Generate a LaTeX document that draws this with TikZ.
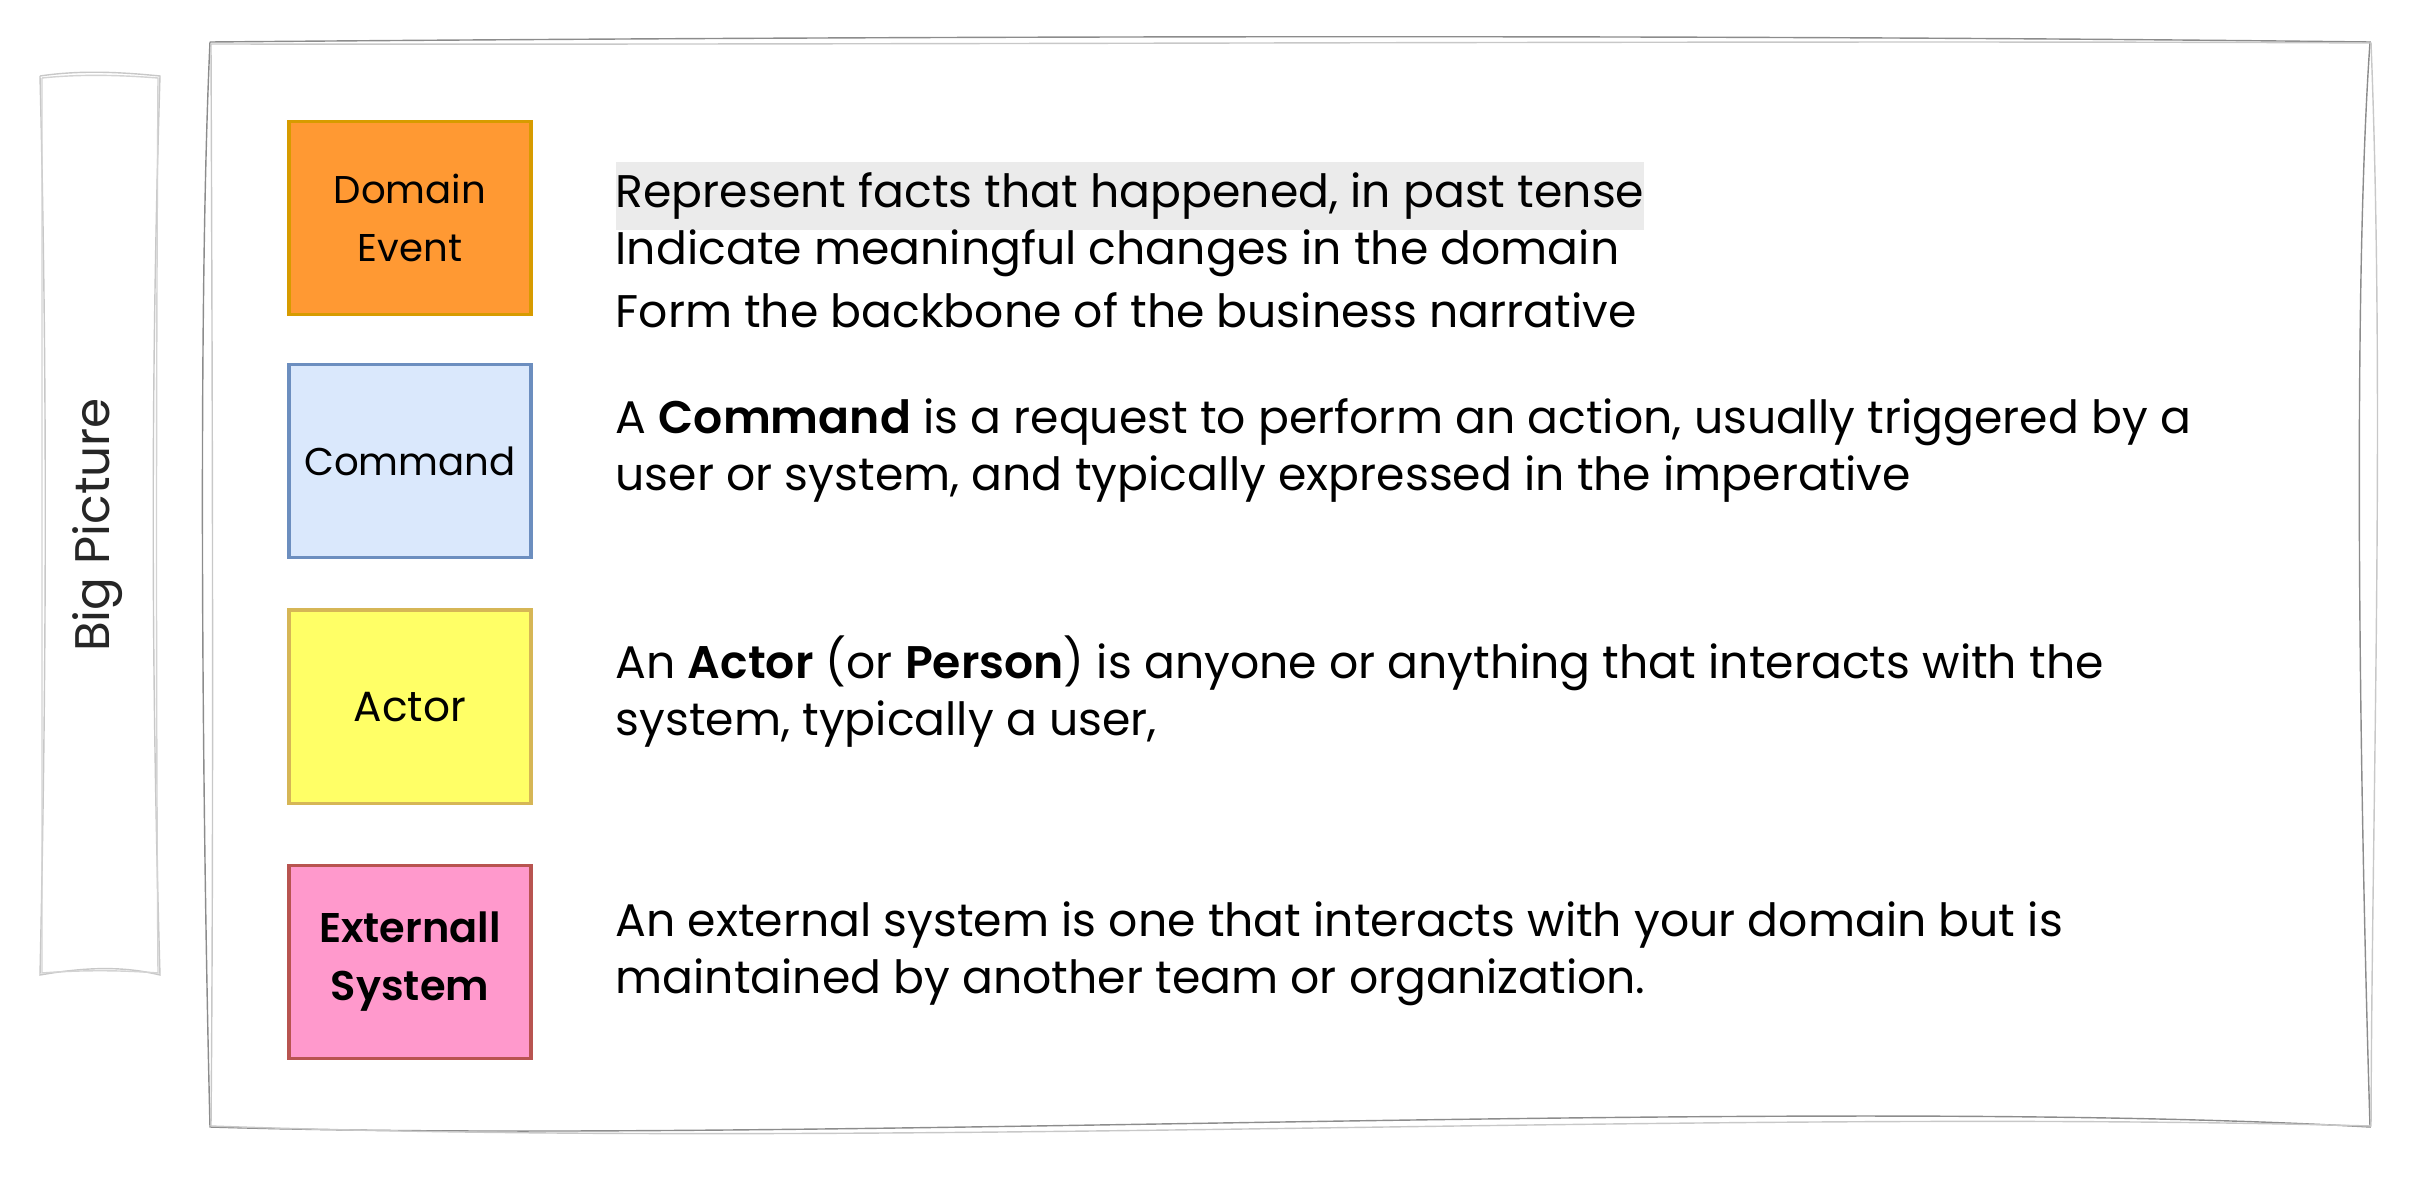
\documentclass[tikz,border=0pt]{standalone}
\usepackage{fontspec}
\setmainfont{Poppins}[BoldFont={Poppins SemiBold}]
\usepackage{xcolor}
\usetikzlibrary{positioning}
\definecolor{eventfill}{HTML}{FF9933}
\definecolor{eventline}{HTML}{D79B00}
\definecolor{commandfill}{HTML}{DAE8FC}
\definecolor{commandline}{HTML}{6C8EBF}
\definecolor{actorfill}{HTML}{FFFF66}
\definecolor{actorline}{HTML}{D6B656}
\definecolor{externalfill}{HTML}{FF99CC}
\definecolor{externalline}{HTML}{B85450}
\definecolor{hilite}{HTML}{EBEBEB}
\definecolor{sketchdark}{HTML}{8C8C8C}
\definecolor{sketchlight}{HTML}{C8C8C8}

\begin{document}
\begin{tikzpicture}[
    x=0.01cm, y=-0.01cm,
    sticky/.style={rectangle, draw, line width=0.9pt,
                   minimum width=2.42cm, minimum height=1.93cm,
                   align=center,
                   font=\fontsize{11}{16.5}\selectfont},
    desc/.style={anchor=west, align=left, inner sep=0pt,
                 font=\fontsize{13}{16.2}\selectfont},
    sketch/.style={line width=0.4pt}
]
\useasboundingbox (0,0) rectangle (2412,1200);

% hand drawn frame
\draw[sketch, sketchdark] (210,42) .. controls (900,36) and (1700,34) .. (2370,42)
    .. controls (2352,300) and (2360,800) .. (2370,1127)
    .. controls (1800,1095) and (800,1145) .. (210,1127)
    .. controls (202,800) and (198,300) .. (210,42);
\draw[sketch, sketchlight] (210,44) .. controls (1000,45) and (1800,40) .. (2371,43)
    .. controls (2385,400) and (2372,800) .. (2371,1126)
    .. controls (1700,1108) and (900,1150) .. (211,1126)
    .. controls (214,800) and (212,300) .. (211,44);

% side label
\draw[sketch, sketchlight] (40,76) .. controls (80,70) and (120,72) .. (160,76)
    .. controls (150,400) and (152,700) .. (160,975)
    .. controls (120,965) and (80,968) .. (40,975)
    .. controls (46,700) and (48,400) .. (40,76);
\draw[sketch, sketchlight!80] (42,78) .. controls (80,74) and (120,75) .. (158,78)
    .. controls (156,400) and (156,700) .. (158,973)
    .. controls (120,970) and (80,970) .. (42,973)
    .. controls (42,700) and (42,400) .. (42,78);
\node[rotate=90, text=black!85, font=\fontsize{13.8}{16}\selectfont] (bigpicture) at (98,525) {Big Picture};

% sticky notes
\node[sticky, fill=eventfill, draw=eventline] (event) at (410,218) {Domain\\Event};
\node[sticky, fill=commandfill, draw=commandline, below=0.47cm of event] (command) {Command};
\node[sticky, fill=actorfill, draw=actorline, below=0.49cm of command,
      font=\fontsize{12}{14}\selectfont] (actor) {Actor};
\node[sticky, fill=externalfill, draw=externalline, below=0.59cm of actor,
      font=\fontsize{11.8}{16.5}\selectfont\bfseries] (external) {Externall\\System};

% descriptions
\node[desc, fill=hilite, minimum height=0.68cm] (facts) at (615,196) {Represent facts that happened, in past tense};
\node[desc] (changes) at (615,253) {Indicate meaningful changes in the domain};
\node[desc] (backbone) at (615,310) {Form the backbone of the business narrative};
\node[desc] (commandtxt) at (615,450) {A \textbf{Command} is a request to perform an action, usually triggered by a\\user or system, and typically expressed in the imperative};
\node[desc] (actortxt) at (615,692) {An \textbf{Actor} (or \textbf{Person}) is anyone or anything that interacts with the\\system, typically a user,};
\node[desc] (externaltxt) at (615,954) {An external system is one that interacts with your domain but is\\maintained by another team or organization.};
\end{tikzpicture}
\end{document}
